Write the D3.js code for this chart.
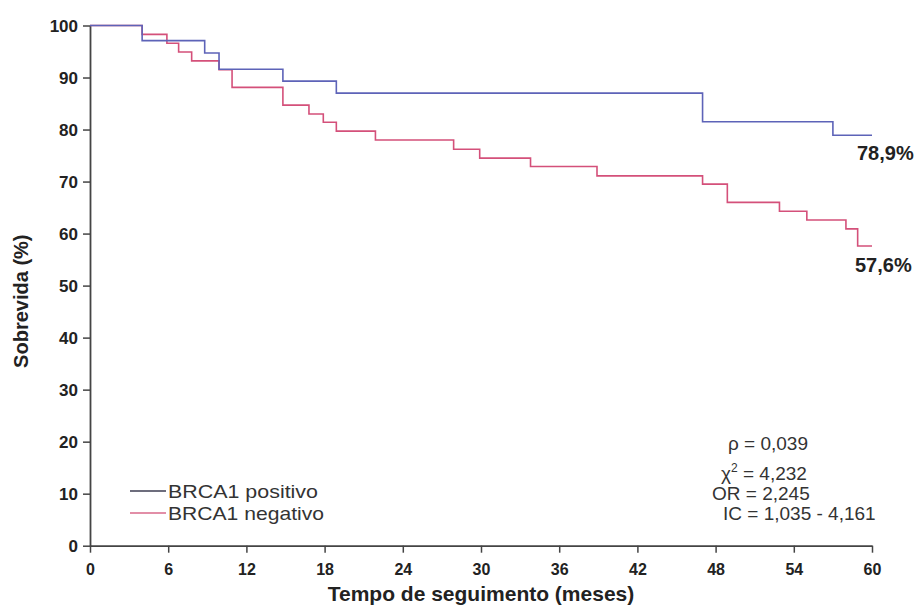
<!DOCTYPE html>
<html>
<head>
<meta charset="utf-8">
<script src="https://cdn.jsdelivr.net/npm/d3@7"></script>
<style>
  html, body { margin: 0; padding: 0; background: #fff; }
  svg { display: block; font-family: Arial, "Liberation Sans", Helvetica, sans-serif; }
</style>
</head>
<body>
<svg id="chart" width="922" height="608"></svg>
<script>
// Follow-up months (x ticks) and survival percentages (y ticks)
const monthTicks = [0, 6, 12, 18, 24, 30, 36, 42, 48, 54, 60];
const survivalTicks = [0, 10, 20, 30, 40, 50, 60, 70, 80, 90, 100];

// Kaplan-Meier steps: BRCA1 positive
const posTimes = [0, 4, 8.8, 9.9, 14.8, 18.9, 47, 57, 60];
const posSurv  = [100, 97.1, 94.7, 91.6, 89.3, 87.0, 81.5, 78.9, 78.9];

// Kaplan-Meier steps: BRCA1 negative
const negTimes = [0, 4, 5.9, 6.8, 7.8, 9.9, 10.9, 14.8, 16.8, 17.9, 18.9, 21.9, 27.9, 29.9, 33.8, 38.9, 47, 48.9, 52.9, 55, 58, 58.9, 60];
const negSurv  = [100, 98.3, 96.6, 94.9, 93.2, 91.5, 88.1, 84.7, 83.0, 81.4, 79.7, 78.0, 76.2, 74.5, 72.9, 71.1, 69.5, 66.0, 64.3, 62.6, 60.9, 57.6, 57.6];

const seriesNames = ["BRCA1 positivo", "BRCA1 negativo"];
const finalLabels = ["78,9%", "57,6%"];
const statLines = ["ρ = 0,039", "χ2 = 4,232", "OR = 2,245", "IC = 1,035 - 4,161"];

const colors = { pos: "#5d63b8", neg: "#d4507a", posLegend: "#3c3c52", negLegend: "#d8688a", axis: "#444", text: "#222" };

const svg = d3.select("#chart");

const x = d3.scaleLinear().domain([0, 60]).range([90, 872]);
const y = d3.scaleLinear().domain([0, 100]).range([545.7, 25.5]);

// Axes
const xAxis = svg.append("g")
  .attr("transform", `translate(0,${y(0)})`)
  .call(d3.axisBottom(x).tickValues(monthTicks).tickSize(7).tickSizeOuter(0).tickFormat(d3.format("d")));
xAxis.select(".domain").attr("stroke", colors.axis).attr("stroke-width", 1.8);
xAxis.selectAll(".tick line").attr("stroke", colors.axis).attr("stroke-width", 1.5);
xAxis.selectAll(".tick text")
  .attr("y", 29).attr("dy", 0)
  .attr("fill", colors.text)
  .style("font-size", "16px").style("font-weight", "bold");

const yAxis = svg.append("g")
  .attr("transform", `translate(${x(0)},0)`)
  .call(d3.axisLeft(y).tickValues(survivalTicks).tickSize(7).tickSizeOuter(0).tickFormat(d3.format("d")));
yAxis.select(".domain").attr("stroke", colors.axis).attr("stroke-width", 1.8);
yAxis.selectAll(".tick line").attr("stroke", colors.axis).attr("stroke-width", 1.5);
yAxis.selectAll(".tick text")
  .attr("x", -12).attr("dy", "0.36em")
  .attr("fill", colors.text)
  .style("font-size", "17px").style("font-weight", "bold");

// Axis titles
svg.append("text")
  .attr("x", x(30)).attr("y", 601)
  .attr("text-anchor", "middle")
  .attr("fill", colors.text)
  .style("font-size", "21px").style("font-weight", "bold")
  .text("Tempo de seguimento (meses)");

svg.append("text")
  .attr("transform", `translate(28,${y(47)}) rotate(-90)`)
  .attr("text-anchor", "middle")
  .attr("fill", colors.text)
  .style("font-size", "20px").style("font-weight", "bold")
  .text("Sobrevida (%)");

// Survival curves
const step = d3.line()
  .x(d => x(d[0]))
  .y(d => y(d[1]))
  .curve(d3.curveStepAfter);

const negData = negTimes.map((t, i) => [t, negSurv[i]]);
const posData = posTimes.map((t, i) => [t, posSurv[i]]);

svg.append("path")
  .datum(negData)
  .attr("d", step)
  .attr("fill", "none")
  .attr("stroke", colors.neg)
  .attr("stroke-width", 1.6);

svg.append("path")
  .datum(posData)
  .attr("d", step)
  .attr("fill", "none")
  .attr("stroke", colors.pos)
  .attr("stroke-width", 1.6);

// End-of-follow-up survival labels
svg.append("text")
  .attr("x", x(60) - 15).attr("y", y(posSurv[posSurv.length - 1]) + 25)
  .attr("fill", colors.text)
  .style("font-size", "20px").style("font-weight", "bold")
  .text(finalLabels[0]);

svg.append("text")
  .attr("x", x(60) - 17).attr("y", y(negSurv[negSurv.length - 1]) + 26)
  .attr("fill", colors.text)
  .style("font-size", "20px").style("font-weight", "bold")
  .text(finalLabels[1]);

// Legend
const legend = svg.append("g");
[[colors.posLegend, 491], [colors.negLegend, 513]].forEach(([c, ly], i) => {
  legend.append("line")
    .attr("x1", 130).attr("x2", 166)
    .attr("y1", ly).attr("y2", ly)
    .attr("stroke", c).attr("stroke-width", 1.6);
  legend.append("text")
    .attr("x", 168).attr("y", ly + 6.5)
    .attr("fill", "#333")
    .attr("textLength", i === 0 ? 150 : 156)
    .attr("lengthAdjust", "spacingAndGlyphs")
    .style("font-size", "19px")
    .text(seriesNames[i]);
});

// Log-rank statistics
const stats = svg.append("g").attr("fill", "#333").style("font-size", "19px");
stats.append("text").attr("x", 728).attr("y", 450).text(statLines[0]);
const chi = stats.append("text").attr("x", 721).attr("y", 480);
chi.append("tspan").text("χ");
chi.append("tspan").attr("dy", -8).style("font-size", "12px").text("2");
chi.append("tspan").attr("dy", 8).text(" = 4,232");
stats.append("text").attr("x", 712).attr("y", 500).text(statLines[2]);
stats.append("text").attr("x", 723).attr("y", 520).text(statLines[3]);
</script>
</body>
</html>
